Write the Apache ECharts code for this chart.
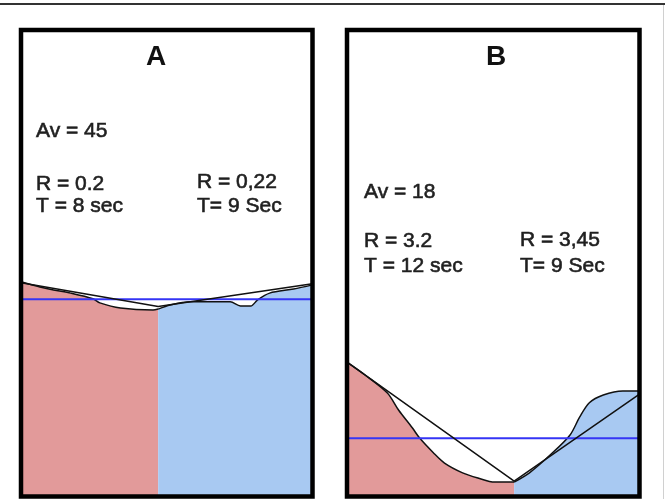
<!DOCTYPE html>
<html>
<head>
<meta charset="utf-8">
<script src="https://cdn.jsdelivr.net/npm/echarts@6/dist/echarts.min.js"></script>
<style>
  html, body { margin: 0; padding: 0; background: #fff; }
  #chart { width: 665px; height: 499px; }
</style>
</head>
<body>
<div id="chart"></div>
<script>
  // panel A: time in sec, level values
  const secA = [0, 1.1, 1.9, 2.9, 4.2, 4.6, 5.8, 7.7, 8, 8.7, 9.9, 12.2, 12.8, 13.4, 13.8, 14.5, 15.9, 17];
  const waveA = [48.4, 47.4, 46.8, 46.2, 45.1, 44.3, 43.3, 42.9, 43.1, 43.9, 44.5, 44.5, 43.7, 43.7, 44.9, 46.2, 47.0, 47.8];
  const vSecA = [0, 8, 17];
  const vValA = [48.2, 43.6, 48.0];
  const splitA = 8;
  const avA = 45;

  // panel B
  const secB = [0, 1.3, 2.9, 3.7, 4.7, 5.2, 6.2, 7.0, 8.3, 9.4, 10.6, 12, 13.1, 14.6, 16.0, 16.7, 17.4, 18.4, 19.8, 21];
  const waveB = [32.8, 30.3, 26.8, 23.5, 20.0, 18.1, 15.2, 13.2, 11.3, 10.3, 9.5, 9.5, 11.3, 14.8, 18.6, 22.1, 24.9, 26.4, 27.2, 27.2];
  const vSecB = [0, 12, 21];
  const vValB = [32.8, 9.7, 26.6];
  const splitB = 12;
  const avB = 18;

  const RED = '#e29a9a', BLUE = '#a8c9f2', AVG = '#3535f5';

  function pairs(xs, ys, keep) {
    const out = [];
    xs.forEach((x, i) => { if (!keep || keep(x)) out.push([x, ys[i]]); });
    return out;
  }

  function panelSeries(idx, xs, ys, vx, vy, split, av) {
    const base = { type: 'line', xAxisIndex: idx, yAxisIndex: idx, symbol: 'none', silent: true };
    const edge = { color: '#111', width: 1.5 };
    return [
      Object.assign({}, base, {
        data: pairs(xs, ys, x => x <= split), smooth: 0.3,
        lineStyle: edge, areaStyle: { color: RED, opacity: 1, origin: 'start' }, z: 2
      }),
      Object.assign({}, base, {
        data: pairs(xs, ys, x => x >= split), smooth: 0.3,
        lineStyle: edge, areaStyle: { color: BLUE, opacity: 1, origin: 'start' }, z: 2
      }),
      Object.assign({}, base, {
        data: [[xs[0], av], [xs[xs.length - 1], av]],
        lineStyle: { color: AVG, width: 2 }, z: 3
      }),
      Object.assign({}, base, {
        data: pairs(vx, vy),
        lineStyle: edge, z: 4
      })
    ];
  }

  const txtFont = '"Liberation Sans", Arial, sans-serif';
  function label(text, x, y) {
    return { type: 'text', x: x, y: y, z: 50,
      style: { text: text, fill: '#1f1f1f', stroke: '#1f1f1f', lineWidth: 0.6, fontSize: 21, fontFamily: txtFont,
        verticalAlign: 'middle', align: 'left' } };
  }
  function head(text, x, y) {
    return { type: 'text', x: x, y: y, z: 50,
      style: { text: text, fill: '#111', fontSize: 28, fontWeight: 'bold', fontFamily: txtFont, verticalAlign: 'middle', align: 'center' } };
  }

  const chart = echarts.init(document.getElementById('chart'));
  chart.setOption({
    animation: false,
    backgroundColor: '#fff',
    grid: [
      { left: 21, top: 30, width: 291.5, height: 466.5 },
      { left: 347, top: 30, width: 292.5, height: 466.5 }
    ],
    xAxis: [
      { type: 'value', gridIndex: 0, min: 0, max: 17, show: false },
      { type: 'value', gridIndex: 1, min: 0, max: 21, show: false }
    ],
    yAxis: [
      { type: 'value', gridIndex: 0, min: 6.7, max: 97.3, show: false },
      { type: 'value', gridIndex: 1, min: 6.7, max: 97.3, show: false }
    ],
    series: panelSeries(0, secA, waveA, vSecA, vValA, splitA, avA)
      .concat(panelSeries(1, secB, waveB, vSecB, vValB, splitB, avB)),
    graphic: [
      { type: 'line', z: 60, shape: { x1: 0, y1: 4, x2: 665, y2: 4 }, style: { stroke: '#333', lineWidth: 2 } },
      { type: 'line', z: 60, shape: { x1: 663.5, y1: 5, x2: 663.5, y2: 499 }, style: { stroke: '#d0d0d0', lineWidth: 1 } },
      { type: 'rect', z: 60, shape: { x: 21, y: 30, width: 291.5, height: 466.5 }, style: { fill: 'none', stroke: '#000', lineWidth: 4.5 } },
      { type: 'rect', z: 60, shape: { x: 347, y: 30, width: 292.5, height: 466.5 }, style: { fill: 'none', stroke: '#000', lineWidth: 4.5 } },
      head('A', 156, 57),
      head('B', 496, 57),
      label('Av = 45', 36, 131),
      label('R = 0.2', 36, 184),
      label('T = 8 sec', 36, 206),
      label('R = 0,22', 197, 182),
      label('T= 9 Sec', 197, 206),
      label('Av = 18', 364, 192),
      label('R = 3.2', 364, 241),
      label('T = 12 sec', 364, 266),
      label('R = 3,45', 520, 240),
      label('T= 9 Sec', 520, 266)
    ]
  });
</script>
</body>
</html>
